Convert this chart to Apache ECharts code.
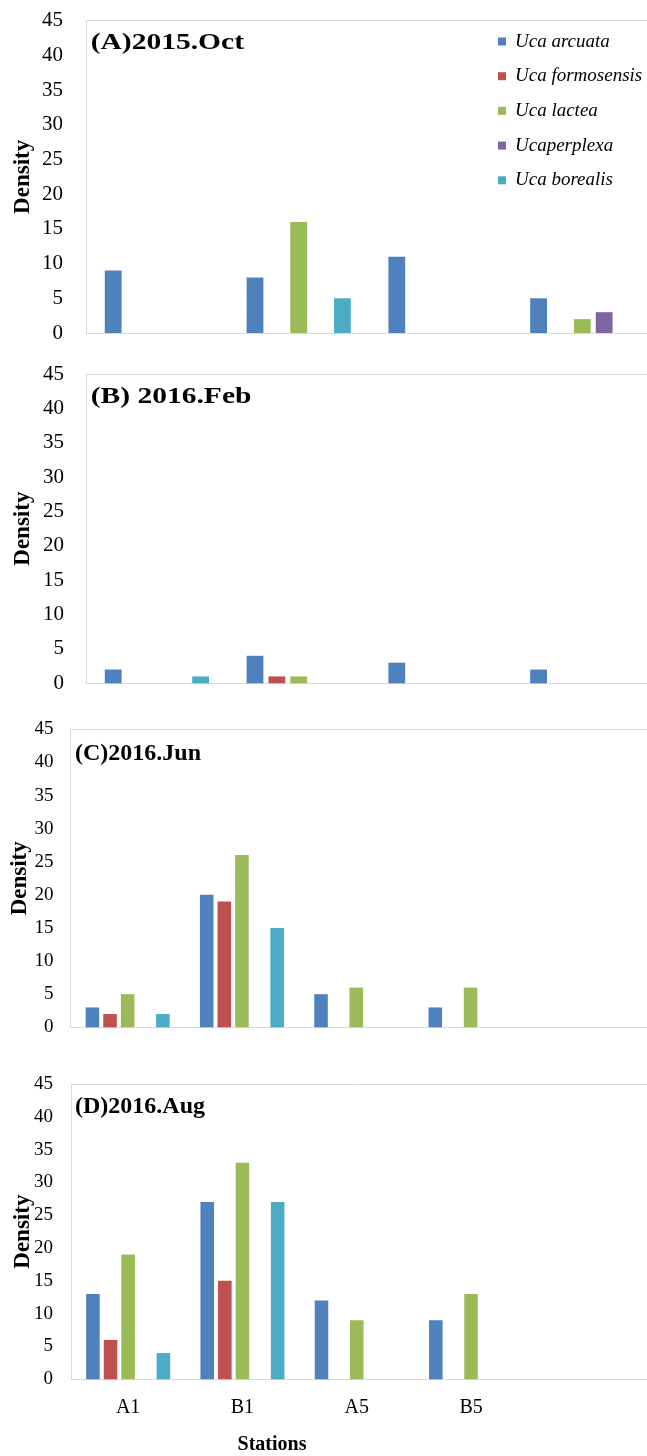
<!DOCTYPE html>
<html>
<head>
<meta charset="utf-8">
<script src="https://cdn.jsdelivr.net/npm/echarts@6/dist/echarts.min.js"></script>
<style>
  html, body { margin: 0; padding: 0; background: #fff; }
  #chart { width: 647px; height: 1456px; }
</style>
</head>
<body>
<div id="chart"></div>
<script>
// Stations on the x axis and crab species (series)
const stations = ['A1', 'B1', 'A5', 'B5'];
const species = ['Uca arcuata', 'Uca formosensis', 'Uca lactea', 'Ucaperplexa', 'Uca borealis'];
const speciesColors = ['#4F81BD', '#C0504D', '#9BBB59', '#8064A2', '#4BACC6'];
const panelTitles = ['(A)2015.Oct', '(B) 2016.Feb', '(C)2016.Jun', '(D)2016.Aug'];

// Density per species (rows follow `species`), columns follow `stations`
const oct2015 = [[9, 8, 11, 5], [0, 0, 0, 0], [0, 16, 0, 2], [0, 0, 0, 3], [0, 5, 0, 0]];
const feb2016 = [[2, 4, 3, 2], [0, 1, 0, 0], [0, 1, 0, 0], [0, 0, 0, 0], [1, 0, 0, 0]];
const jun2016 = [[3, 20, 5, 3], [2, 19, 0, 0], [5, 26, 6, 6], [0, 0, 0, 0], [2, 15, 0, 0]];
const aug2016 = [[13, 27, 12, 9], [6, 15, 0, 0], [19, 33, 9, 13], [0, 0, 0, 0], [4, 27, 0, 0]];

const panelData = [oct2015, feb2016, jun2016, aug2016];

// Panel geometry (the upper two panels are drawn wider; plot areas run past the right edge)
const layout = [
  { left: 86, top: 20.7, height: 312.3, band: 141.8, bands: 4, tick: 21, margin: 23, tx: 90.7, ty: 42.8, sx: 1.23, dx: 23 },
  { left: 86, top: 374, height: 309.3, band: 141.8, bands: 4, tick: 21, margin: 22, tx: 90.7, ty: 396.7, sx: 1.23, dx: 23 },
  { left: 70.5, top: 729.3, height: 298, band: 114.3, bands: 6, tick: 19, margin: 17, tx: 75, ty: 754, sx: 1.0, dx: 20 },
  { left: 71, top: 1084, height: 295.3, band: 114.3, bands: 6, tick: 19, margin: 18, tx: 75, ty: 1106.7, sx: 1.0, dx: 23 }
];

const serif = '"Liberation Serif", "Times New Roman", serif';
const frameColor = '#D9D9D9';
const frameLine = { show: true, lineStyle: { color: frameColor, width: 1 } };

const grids = [], xAxes = [], yAxes = [], series = [], graphics = [];

layout.forEach((p, i) => {
  grids.push({
    left: p.left, top: p.top, height: p.height, width: p.band * p.bands,
    outerBoundsMode: 'none', containLabel: false, show: false
  });
  const last = i === layout.length - 1;
  xAxes.push({
    type: 'category', gridIndex: i, data: stations, max: p.bands - 1,
    axisLine: frameLine, axisTick: { show: false },
    axisLabel: {
      show: last, interval: 0, margin: 18, fontSize: 20, color: '#000', fontFamily: serif,
      formatter: v => (stations.includes(v) ? v : '')
    },
    splitLine: { show: false }
  });
  yAxes.push({
    type: 'value', gridIndex: i, min: 0, max: 45, interval: 5,
    axisLine: frameLine, axisTick: { show: false }, splitLine: { show: false },
    axisLabel: { fontSize: p.tick, color: '#000', fontFamily: serif, margin: p.margin }
  });
  species.forEach((name, s) => {
    const bar = {
      type: 'bar', name, xAxisIndex: i, yAxisIndex: i,
      data: panelData[i][s],
      itemStyle: { color: speciesColors[s] },
      barGap: '30%', barCategoryGap: '26.5%',
      emphasis: { disabled: true }
    };
    if (s === 0) {
      // top edge of the plot frame
      bar.markLine = {
        silent: true, symbol: 'none', animation: false,
        label: { show: false },
        lineStyle: { color: frameColor, width: 1, type: 'solid' },
        data: [{ yAxis: 45 }]
      };
    }
    series.push(bar);
  });
  // Panel title
  graphics.push({
    type: 'text', x: p.tx, y: p.ty, scaleX: p.sx,
    style: {
      text: panelTitles[i], fontSize: 24, fontWeight: 'bold', fontFamily: serif,
      fill: '#000', align: 'left', verticalAlign: 'middle'
    }
  });
  // y axis title
  graphics.push({
    type: 'text', x: p.dx, y: p.top + p.height / 2, rotation: Math.PI / 2,
    style: {
      text: 'Density', fontSize: 23, fontWeight: 'bold', fontFamily: serif,
      fill: '#000', align: 'center', verticalAlign: 'middle'
    }
  });
});

// x axis title
graphics.push({
  type: 'text', x: 272, y: 1445,
  style: {
    text: 'Stations', fontSize: 20, fontWeight: 'bold', fontFamily: serif,
    fill: '#000', align: 'center', verticalAlign: 'middle'
  }
});

const chart = echarts.init(document.getElementById('chart'), null, { renderer: 'canvas' });
chart.setOption({
  animation: false,
  color: speciesColors,
  legend: {
    data: species, orient: 'vertical', left: 498, top: 32, padding: 0,
    icon: 'rect', itemWidth: 8, itemHeight: 8, itemGap: 15.7,
    textStyle: { fontStyle: 'italic', fontSize: 19, fontFamily: serif, color: '#000', padding: [0, 0, 0, 4] },
    selectedMode: false
  },
  grid: grids,
  xAxis: xAxes,
  yAxis: yAxes,
  series,
  graphic: graphics
});
</script>
</body>
</html>
